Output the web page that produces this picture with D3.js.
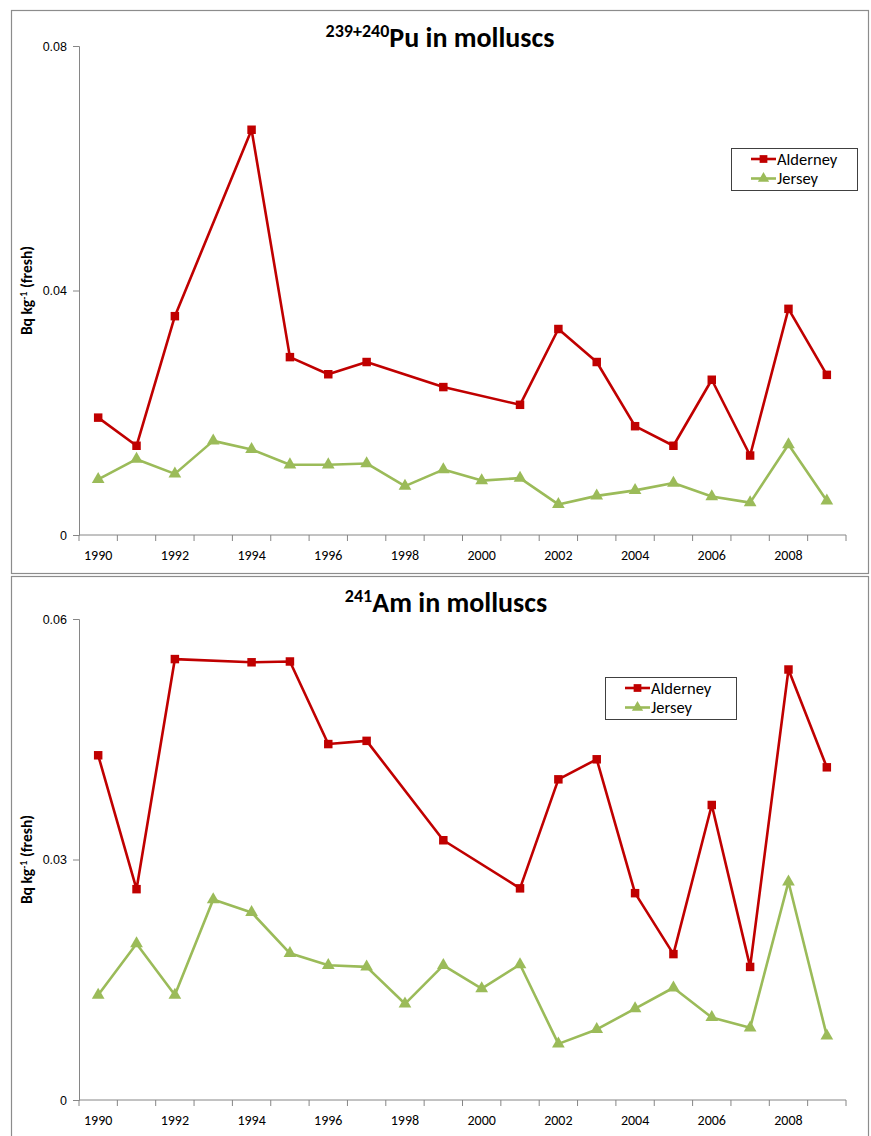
<!DOCTYPE html>
<html>
<head>
<meta charset="utf-8">
<script src="https://cdn.jsdelivr.net/npm/d3@7"></script>
<style>
  html, body { margin: 0; padding: 0; background: #fff; }
  svg { display: block; }
  text { font-family: Carlito, Lato, "Open Sans", sans-serif; }
</style>
</head>
<body>
<svg id="chart" width="871" height="1136"></svg>
<script>
// Sampling years (one category per year)
const years = ["1990","1991","1992","1993","1994","1995","1996","1997","1998","1999",
               "2000","2001","2002","2003","2004","2005","2006","2007","2008","2009"];
const yearLabels = ["1990","1992","1994","1996","1998","2000","2002","2004","2006","2008"];

// 239+240Pu in molluscs, Bq kg-1 (fresh); null = no sample that year
const puAlderney = [0.0192, 0.0146, 0.0358, null, 0.0663, 0.0291, 0.0263, 0.0283, null, 0.0242,
                    null, 0.0213, 0.0337, 0.0283, 0.0178, 0.0146, 0.0254, 0.0130, 0.0370, 0.0262];
const puJersey   = [0.0091, 0.0124, 0.0100, 0.0154, 0.0140, 0.0115, 0.0115, 0.0117, 0.0080, 0.0107,
                    0.0089, 0.0093, 0.0050, 0.0064, 0.0073, 0.0085, 0.0063, 0.0053, 0.0148, 0.0056];
const puTicks = [0, 0.04, 0.08];

// 241Am in molluscs, Bq kg-1 (fresh)
const amAlderney = [0.0430, 0.0263, 0.0550, null, 0.0546, 0.0547, 0.0444, 0.0448, null, 0.0324,
                    null, 0.0264, 0.0400, 0.0425, 0.0258, 0.0182, 0.0368, 0.0166, 0.0537, 0.0415];
const amJersey   = [0.0131, 0.0195, 0.0131, 0.0250, 0.0234, 0.0183, 0.0168, 0.0166, 0.0120, 0.0168,
                    0.0139, 0.0169, 0.0070, 0.0088, 0.0114, 0.0140, 0.0103, 0.0090, 0.0272, 0.0080];
const amTicks = [0, 0.03, 0.06];

const seriesNames = ["Alderney", "Jersey"];
const RED = "#C00000", GREEN = "#9BBB59", AXIS = "#868686";

const svg = d3.select("#chart");

const panels = [
  { sup: "239+240", main: "Pu in molluscs", data: [puAlderney, puJersey], ticks: puTicks,
    frame: [11.5, 10.5, 857, 563], plot: { x0: 79, x1: 846, y0: 535, y1: 46 },
    titleY: 47, titleX: 440, legend: { x: 731, y: 148, w: 126, h: 42 } },
  { sup: "241", main: "Am in molluscs", data: [amAlderney, amJersey], ticks: amTicks,
    frame: [11.5, 576.5, 857, 570], plot: { x0: 79, x1: 846, y0: 1100, y1: 619 },
    titleY: 612, titleX: 446, legend: { x: 605, y: 677, w: 131, h: 42 } }
];

// labels for 0 should read "0"
const tickFmt = d => d === 0 ? "0" : d3.format(".2f")(d);

panels.forEach(p => {
  const g = svg.append("g");

  // chart frame
  g.append("rect")
    .attr("x", p.frame[0]).attr("y", p.frame[1])
    .attr("width", p.frame[2]).attr("height", p.frame[3])
    .attr("fill", "#fff").attr("stroke", "#8c8c8c").attr("stroke-width", 1.2);

  const x = d3.scaleBand().domain(years).range([p.plot.x0, p.plot.x1]).padding(0);
  const yMax = p.ticks[p.ticks.length - 1];
  const y = d3.scaleLinear().domain([0, yMax]).range([p.plot.y0, p.plot.y1]);

  // y axis
  const yAxis = g.append("g").attr("transform", `translate(${p.plot.x0},0)`)
    .call(d3.axisLeft(y).tickValues(p.ticks).tickFormat(tickFmt).tickSize(6).tickPadding(6));
  yAxis.select(".domain").attr("stroke", AXIS);
  yAxis.selectAll(".tick line").attr("stroke", AXIS);
  yAxis.selectAll(".tick text").attr("fill", "#000")
    .style("font-family", "'Liberation Sans', Arial, sans-serif").attr("font-size", 12.5);

  // x axis: ticks sit between the yearly categories
  const xAxis = g.append("g").attr("transform", `translate(0,${p.plot.y0})`);
  xAxis.append("line").attr("x1", p.plot.x0).attr("x2", p.plot.x1)
    .attr("stroke", AXIS);
  const bounds = years.map(d => x(d)).concat([x(years[years.length - 1]) + x.bandwidth()]);
  xAxis.selectAll("line.tk").data(bounds).join("line").attr("class", "tk")
    .attr("x1", d => d).attr("x2", d => d).attr("y1", 0).attr("y2", 6)
    .attr("stroke", AXIS);
  xAxis.selectAll("text.lbl").data(yearLabels).join("text").attr("class", "lbl")
    .attr("x", d => x(d) + x.bandwidth() / 2).attr("y", 25)
    .attr("text-anchor", "middle").attr("font-size", 14).attr("fill", "#000")
    .text(d => d);

  // y axis title
  const yt = g.append("text")
    .attr("transform", `translate(32,${(p.plot.y0 + p.plot.y1) / 2}) rotate(-90)`)
    .attr("text-anchor", "middle").attr("font-size", 15.5).attr("font-weight", "bold").attr("fill", "#000");
  yt.append("tspan").text("Bq kg");
  yt.append("tspan").attr("dy", -5).attr("font-size", 10).text("-1");
  yt.append("tspan").attr("dy", 5).text(" (fresh)");

  // chart title
  const t = g.append("text").attr("x", p.titleX).attr("y", p.titleY)
    .attr("text-anchor", "middle").attr("font-weight", "bold").attr("fill", "#000");
  t.append("tspan").attr("font-size", 18).attr("dy", -10).text(p.sup);
  t.append("tspan").attr("font-size", 28).attr("dy", 10).text(p.main);

  // series
  const colors = [RED, GREEN];
  p.data.forEach((vals, i) => {
    const pts = years.map((yr, k) => ({ yr, v: vals[k] })).filter(d => d.v !== null);
    const line = d3.line().x(d => x(d.yr) + x.bandwidth() / 2).y(d => y(d.v));
    g.append("path").datum(pts).attr("d", line)
      .attr("fill", "none").attr("stroke", colors[i]).attr("stroke-width", 2.6)
      .attr("stroke-linejoin", "round");
    const sym = d3.symbol().type(i === 0 ? d3.symbolSquare : d3.symbolTriangle).size(i === 0 ? 72 : 70);
    g.selectAll(null).data(pts).join("path")
      .attr("transform", d => `translate(${x(d.yr) + x.bandwidth() / 2},${y(d.v)})`)
      .attr("d", sym).attr("fill", colors[i]);
  });

  // legend
  const L = p.legend;
  const lg = g.append("g").attr("transform", `translate(${L.x},${L.y})`);
  lg.append("rect").attr("x", 0.5).attr("y", 0.5).attr("width", L.w).attr("height", L.h)
    .attr("fill", "#fff").attr("stroke", "#404040").attr("stroke-width", 1);
  seriesNames.forEach((name, i) => {
    const cy = 11 + i * 19.5;
    lg.append("line").attr("x1", 20).attr("x2", 45).attr("y1", cy).attr("y2", cy)
      .attr("stroke", colors[i]).attr("stroke-width", 2.6);
    lg.append("path").attr("transform", `translate(32.5,${cy})`)
      .attr("d", d3.symbol().type(i === 0 ? d3.symbolSquare : d3.symbolTriangle).size(i === 0 ? 60 : 55))
      .attr("fill", colors[i]);
    lg.append("text").attr("x", 46).attr("y", cy + 5.5).attr("font-size", 16.5).attr("fill", "#000").text(name);
  });
});
</script>
</body>
</html>
